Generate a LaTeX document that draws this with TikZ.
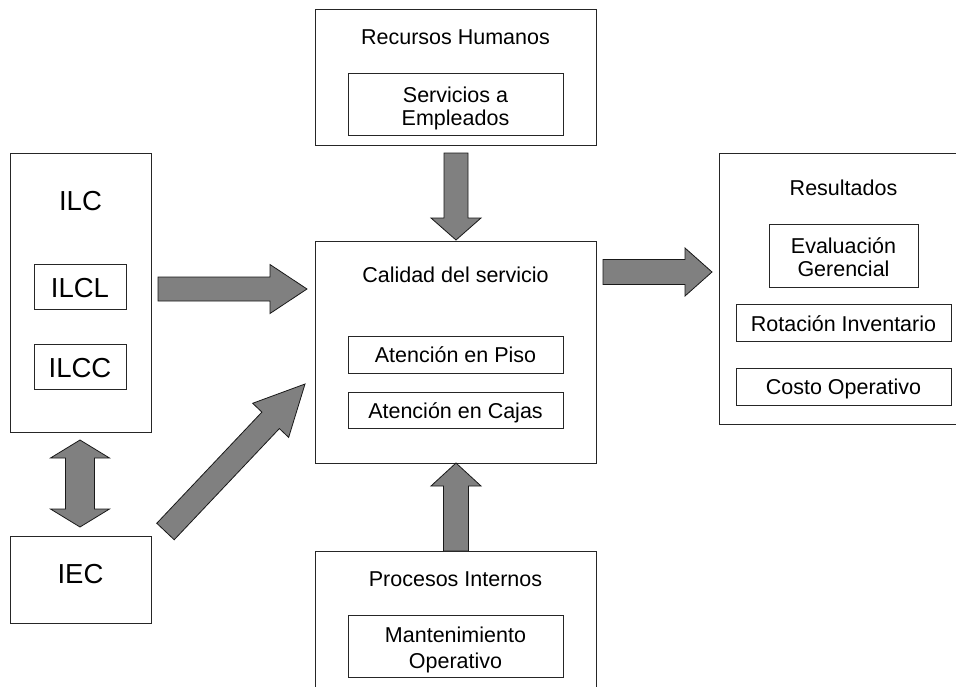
\documentclass[tikz,border=0pt]{standalone}
\usepackage{fontspec}
\setmainfont{Liberation Sans}
\usetikzlibrary{calc}

\tikzset{
  box/.style={draw=black!85, line width=0.9pt, inner sep=0pt},
  lbl/.style={font=\fontsize{21.5}{23}\selectfont, inner sep=0pt, text height=15.4pt, text depth=0pt},
  biglbl/.style={font=\fontsize{27.5}{30}\selectfont, inner sep=0pt, text height=19.7pt, text depth=0pt},
  twoline/.style={font=\fontsize{21.5}{#1}\selectfont, inner sep=0pt, anchor=base},
  twoline/.default=23,
  blk/.style={fill=black!50, draw=black!90, line width=0.8pt, line join=miter},
}

% block arrow: from, to, half shaft width, half head width, head length
\newcommand\blockarrow[5]{%
  \coordinate (hb) at ($(#2)!#5!(#1)$);
  \draw[blk] ($(#1)!#3!90:(#2)$) -- ($(hb)!#3!90:(#2)$) -- ($(hb)!#4!90:(#2)$)
    -- (#2) -- ($(hb)!#4!-90:(#2)$) -- ($(hb)!#3!-90:(#2)$) -- ($(#1)!#3!-90:(#2)$) -- cycle;
}
% two-headed block arrow with the same parameters
\newcommand\doubleblockarrow[5]{%
  \coordinate (ha) at ($(#1)!#5!(#2)$);
  \coordinate (hb) at ($(#2)!#5!(#1)$);
  \draw[blk] (#1) -- ($(ha)!#4!90:(#2)$) -- ($(ha)!#3!90:(#2)$) -- ($(hb)!#3!90:(#2)$)
    -- ($(hb)!#4!90:(#2)$) -- (#2) -- ($(hb)!#4!-90:(#2)$) -- ($(hb)!#3!-90:(#2)$)
    -- ($(ha)!#3!-90:(#2)$) -- ($(ha)!#4!-90:(#2)$) -- cycle;
}
\newcommand\stk[1]{\begin{tabular}[t]{@{}c@{}}#1\end{tabular}}

\begin{document}
\begin{tikzpicture}[x=1pt, y=-1pt]
  \useasboundingbox[fill=white] (0,0) rectangle (956,686);
  \clip (0,0) rectangle (956,686);

  % left column
  \node[box, minimum width=141pt, minimum height=279pt] (ilc) at (80.5,292.5) {};
  \node[biglbl] (ilct) at (80.5,201) {ILC};
  \node[box, minimum width=92pt, minimum height=45pt] (ilcl) at (80,286.5) {};
  \node[biglbl] (ilclt) at (80,287.5) {ILCL};
  \node[box, minimum width=92pt, minimum height=45pt] (ilcc) at (80,366.5) {};
  \node[biglbl] (ilcct) at (80,367.5) {ILCC};
  \node[box, minimum width=141pt, minimum height=87pt] (iec) at (80.5,579.5) {};
  \node[biglbl] (iect) at (80.5,574) {IEC};

  % Recursos Humanos
  \node[box, minimum width=281pt, minimum height=136pt] (rh) at (455.5,77) {};
  \node[lbl] (rht) at (455.5,36.5) {Recursos Humanos};
  \node[box, minimum width=215pt, minimum height=62pt] (serv) at (455.5,104) {};
  \node[twoline] (servt) at (455.5,102.2) {\stk{Servicios a\\Empleados}};

  % Calidad del servicio
  \node[box, minimum width=281pt, minimum height=222pt] (cal) at (455.5,352) {};
  \node[lbl] (calt) at (455.5,275) {Calidad del servicio};
  \node[box, minimum width=215pt, minimum height=37pt] (piso) at (455.5,354.5) {};
  \node[lbl] (pisot) at (455.5,355) {Atención en Piso};
  \node[box, minimum width=215pt, minimum height=36pt] (cajas) at (455.5,410) {};
  \node[lbl] (cajast) at (455.5,410.5) {Atención en Cajas};

  % Procesos Internos
  \node[box, minimum width=281pt, minimum height=149pt] (proc) at (455.5,625.5) {};
  \node[lbl] (proct) at (455.5,579) {Procesos Internos};
  \node[box, minimum width=215pt, minimum height=62pt] (mant) at (455.5,646) {};
  \node[twoline=25.5] (mantt) at (455.5,642.7) {\stk{Mantenimiento\\Operativo}};

  % Resultados
  \node[box, minimum width=249pt, minimum height=271pt] (res) at (843.5,288.5) {};
  \node[lbl] (rest) at (843.5,188) {Resultados};
  \node[box, minimum width=149pt, minimum height=63pt] (eval) at (843.5,255.5) {};
  \node[twoline] (evalt) at (843.5,253.7) {\stk{Evaluación\\Gerencial}};
  \node[box, minimum width=215pt, minimum height=37pt] (rot) at (843.5,322.5) {};
  \node[lbl] (rott) at (843.5,323.5) {Rotación Inventario};
  \node[box, minimum width=215pt, minimum height=37pt] (costo) at (843.5,386.5) {};
  \node[lbl] (costot) at (843.5,387) {Costo Operativo};

  % arrow end points
  \coordinate (a1s) at (158,289);   \coordinate (a1e) at (307,289);
  \coordinate (a2s) at (165.5,531.5); \coordinate (a2e) at (305,384);
  \coordinate (a3s) at (456,153);   \coordinate (a3e) at (456,240);
  \coordinate (a4s) at (456,551);   \coordinate (a4e) at (456,463);
  \coordinate (a5s) at (603,272);   \coordinate (a5e) at (712,272);
  \coordinate (a6s) at (80,440);    \coordinate (a6e) at (80,527);

  \blockarrow{a1s}{a1e}{12pt}{24.5pt}{37pt}
  \blockarrow{a2s}{a2e}{12pt}{24.8pt}{50pt}
  \blockarrow{a3s}{a3e}{12pt}{25pt}{22pt}
  \blockarrow{a4s}{a4e}{12.5pt}{25pt}{23pt}
  \blockarrow{a5s}{a5e}{12.5pt}{24pt}{27pt}
  \doubleblockarrow{a6s}{a6e}{14.5pt}{29.5pt}{18pt}
\end{tikzpicture}
\end{document}
